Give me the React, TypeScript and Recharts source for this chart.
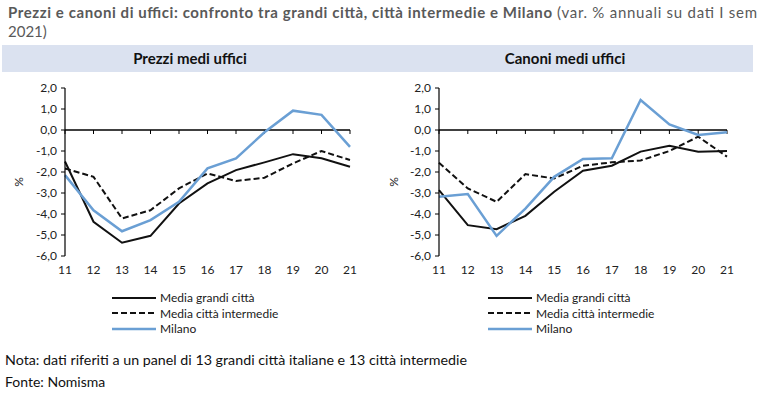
import React from 'react';
import {
  LineChart,
  Line,
  XAxis,
  YAxis,
  ReferenceLine,
  Legend,
} from 'recharts';

const years = ['11', '12', '13', '14', '15', '16', '17', '18', '19', '20', '21'];
const yTicks = [-6, -5, -4, -3, -2, -1, 0, 1, 2];

const prezziGrandi = [-1.5, -4.37, -5.37, -5.04, -3.5, -2.54, -1.91, -1.54, -1.15, -1.35, -1.75];
const prezziIntermedie = [-1.83, -2.23, -4.21, -3.82, -2.78, -2.07, -2.43, -2.27, -1.59, -1.0, -1.43];
const prezziMilano = [-2.15, -3.82, -4.82, -4.29, -3.42, -1.83, -1.35, -0.11, 0.92, 0.72, -0.8];

const canoniGrandi = [-2.86, -4.53, -4.72, -4.09, -2.94, -1.94, -1.7, -1.03, -0.75, -1.03, -1.0];
const canoniIntermedie = [-1.56, -2.78, -3.42, -2.1, -2.31, -1.7, -1.54, -1.45, -1.0, -0.32, -1.27];
const canoniMilano = [-3.18, -3.05, -5.04, -3.74, -2.23, -1.38, -1.35, 1.43, 0.27, -0.24, -0.11];

const FONT = 'Lato, "Open Sans", sans-serif';

const SERIES = [
  { key: 'grandi', name: 'Media grandi città', color: '#111111', width: 2, dash: undefined as string | undefined },
  { key: 'intermedie', name: 'Media città intermedie', color: '#111111', width: 2, dash: '6 3' },
  { key: 'milano', name: 'Milano', color: '#6a9fd4', width: 2.5, dash: undefined as string | undefined },
];

function buildRows(grandi: number[], intermedie: number[], milano: number[]) {
  return years.map((year, i) => ({
    year,
    grandi: grandi[i],
    intermedie: intermedie[i],
    milano: milano[i],
  }));
}

const fmt = (v: number) => v.toFixed(1).replace('.', ',');

function renderLegend() {
  return (
    <div style={{ fontFamily: FONT, fontSize: 12, color: '#1a1a1a', lineHeight: '15.5px' }}>
      {SERIES.map((s) => (
        <div key={s.key} style={{ display: 'flex', alignItems: 'center', whiteSpace: 'nowrap' }}>
          <svg width={44} height={8} style={{ display: 'block' }}>
            <line x1={0} y1={4} x2={44} y2={4} stroke={s.color} strokeWidth={s.width} strokeDasharray={s.dash} />
          </svg>
          <span style={{ marginLeft: 4 }}>{s.name}</span>
        </div>
      ))}
    </div>
  );
}

interface PanelProps {
  left: number;
  axisWidth: number;
  rightMargin: number;
  legendLeft: number;
  labelX: number;
  grandi: number[];
  intermedie: number[];
  milano: number[];
}

function Panel({ left, axisWidth, rightMargin, legendLeft, labelX, grandi, intermedie, milano }: PanelProps) {
  const rows = buildRows(grandi, intermedie, milano);
  return (
    <div style={{ position: 'absolute', left, top: 75 }}>
      <LineChart width={384} height={265} data={rows} margin={{ top: 13, right: rightMargin, left: 0, bottom: 50 }}>
        <XAxis
          dataKey="year"
          axisLine={false}
          tickLine={false}
          height={34}
          tickMargin={3}
          interval={0}
          tick={{ fontSize: 12, fill: '#222', fontFamily: FONT }}
        />
        <YAxis
          width={axisWidth}
          domain={[-6, 2]}
          ticks={yTicks}
          interval={0}
          tickFormatter={fmt}
          axisLine={{ stroke: '#000', strokeWidth: 1.2 }}
          tickLine={{ stroke: '#000' }}
          tickSize={4}
          tickMargin={4}
          tick={{ fontSize: 12, fill: '#222', fontFamily: FONT }}
          label={{
            value: '%',
            content: (props: any) => {
              const vb = props.viewBox || { x: 0, y: 0, height: 0 };
              const cx = vb.x + labelX;
              const cy = vb.y + vb.height / 2 + 10;
              return (
                <text
                  x={cx}
                  y={cy}
                  transform={`rotate(-90 ${cx} ${cy})`}
                  textAnchor="middle"
                  dominantBaseline="central"
                  fontSize={12}
                  fontFamily={FONT}
                  fill="#222"
                >
                  %
                </text>
              );
            },
          }}
        />
        <ReferenceLine y={0} stroke="#000" strokeWidth={1.4} />
        {years.map((y) => (
          <ReferenceLine
            key={y}
            segment={[
              { x: y, y: 0 },
              { x: y, y: -0.19 },
            ]}
            stroke="#000"
            strokeWidth={1}
          />
        ))}
        {SERIES.map((s) => (
          <Line
            key={s.key}
            type="linear"
            dataKey={s.key}
            name={s.name}
            stroke={s.color}
            strokeWidth={s.width}
            strokeDasharray={s.dash}
            dot={false}
            activeDot={false}
            isAnimationActive={false}
          />
        ))}
        <Legend
          layout="vertical"
          align="center"
          verticalAlign="middle"
          content={renderLegend}
          wrapperStyle={{ top: 215, left: legendLeft, width: 'auto', height: 'auto' }}
        />
      </LineChart>
    </div>
  );
}

export default function App() {
  return (
    <div
      style={{
        position: 'absolute',
        left: 0,
        top: 0,
        width: 768,
        height: 395,
        background: '#fff',
        overflow: 'hidden',
        fontFamily: FONT,
      }}
    >
      <div style={{ position: 'absolute', left: 2, top: 45, width: 751, height: 27, background: '#dbe2f0' }} />
      <svg width={768} height={395} style={{ position: 'absolute', left: 0, top: 0 }}>
        <text x={8} y={18} fontFamily={FONT} fontSize={15} fill="#595959">
          <tspan fontWeight="bold" textLength={544} lengthAdjust="spacing">
            Prezzi e canoni di uffici: confronto tra grandi città, città intermedie e Milano
          </tspan>
        </text>
        <text x={557} y={18} fontFamily={FONT} fontSize={15} fill="#595959" textLength={200} lengthAdjust="spacing">
          (var. % annuali su dati I sem
        </text>
        <text x={8} y={37} fontFamily={FONT} fontSize={15} fill="#595959">
          2021)
        </text>
        <text x={190} y={64} textAnchor="middle" fontFamily={FONT} fontSize={15} fontWeight="bold" fill="#111">
          Prezzi medi uffici
        </text>
        <text x={565} y={64} textAnchor="middle" fontFamily={FONT} fontSize={15} fontWeight="bold" fill="#111">
          Canoni medi uffici
        </text>
        <text x={5} y={365} fontFamily={FONT} fontSize={14} fill="#111" textLength={462} lengthAdjust="spacingAndGlyphs">
          Nota: dati riferiti a un panel di 13 grandi città italiane e 13 città intermedie
        </text>
        <text x={5} y={387} fontFamily={FONT} fontSize={14} fill="#111">
          Fonte: Nomisma
        </text>
      </svg>
      <Panel
        left={0}
        axisWidth={65}
        rightMargin={34}
        legendLeft={112}
        labelX={18}
        grandi={prezziGrandi}
        intermedie={prezziIntermedie}
        milano={prezziMilano}
      />
      <Panel
        left={384}
        axisWidth={55}
        rightMargin={41}
        legendLeft={104}
        labelX={9}
        grandi={canoniGrandi}
        intermedie={canoniIntermedie}
        milano={canoniMilano}
      />
    </div>
  );
}
